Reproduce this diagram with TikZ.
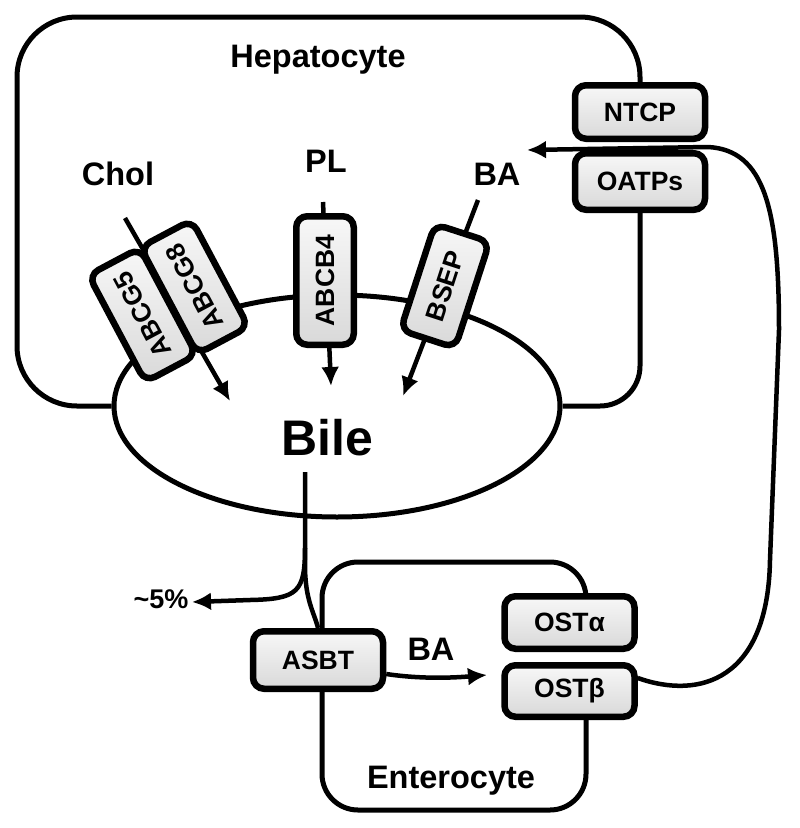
\documentclass[tikz,border=0pt]{standalone}
\usepackage{fontspec}
\setmainfont{Liberation Sans}
\usetikzlibrary{arrows.meta,shapes.geometric,backgrounds,calc}
\begin{document}
\begin{tikzpicture}[x=1pt,y=-1pt,
  wall/.style={line width=5pt},
  conn/.style={line width=4.5pt},
  arr/.style={line width=4.5pt,-{Latex[length=19pt,width=18pt]}},
  tbox/.style={draw, line width=6.5pt, rounded corners=11pt, top color=gray!6, middle color=gray!13, bottom color=gray!30,
    font=\bfseries\fontsize{26.5}{30}\selectfont, inner sep=0pt},
  lbl/.style={font=\bfseries\fontsize{32.5}{38}\selectfont, anchor=base, inner sep=0pt},
]
\useasboundingbox (0,0) rectangle (800,828);

% bile canaliculus
\node[draw, ellipse, line width=5pt, minimum width=446pt, minimum height=222pt] (bile) at (337,406) {};

% transporters
\node[tbox, minimum width=130pt, minimum height=53.5pt] (NTCP) at (640,112) {NTCP};
\node[tbox, minimum width=130pt, minimum height=56.5pt] (OATPs) at (640,181.5) {OATPs};
\node[tbox, minimum width=121pt, minimum height=58pt, rotate=118] (ABCG5) at (142.5,315) {ABCG5};
\node[tbox, minimum width=121pt, minimum height=58pt, rotate=118] (ABCG8) at (194.5,287) {ABCG8};
\node[tbox, minimum width=128.5pt, minimum height=57.5pt, rotate=90] (ABCB4) at (325,280.5) {ABCB4};
\node[tbox, minimum width=111.5pt, minimum height=57.5pt, rotate=72] (BSEP) at (445,286) {BSEP};
\node[tbox, minimum width=130pt, minimum height=57.5pt] (ASBT) at (318,660) {ASBT};
\node[tbox, minimum width=130pt, minimum height=52.5pt] (OSTa) at (569.5,622.5) {OSTα};
\node[tbox, minimum width=130pt, minimum height=51.5pt] (OSTb) at (569.5,691) {OSTβ};

% labels
\node[lbl] (hep) at (318,67) {Hepatocyte};
\node[lbl] (chol) at (118,185) {Chol};
\node[lbl] (pl) at (326,172) {PL};
\node[lbl] (bahep) at (497,185) {BA};
\node[lbl, font=\bfseries\fontsize{50}{58}\selectfont] (biletxt) at (327,455) {Bile};
\node[lbl, font=\bfseries\fontsize{27}{30}\selectfont] (pct) at (161,608) {\textasciitilde5\%};
\node[lbl] (baent) at (431,660) {BA};
\node[lbl] (ent) at (451,788) {Enterocyte};

% free ends
\coordinate (cholstart) at (125,218);
\coordinate (choltip) at (230,401);
\coordinate (plstart) at (323,202);
\coordinate (pltip) at (331,386);
\coordinate (bastart) at (478,200);
\coordinate (batip) at (403,396);
\coordinate (hepbatip) at (527,150);
\coordinate (biletail) at (305,472);
\coordinate (pcttip) at (192,602);
\coordinate (enttip) at (487,675);

\begin{scope}[on background layer]
  % hepatocyte outline
  \draw[wall, rounded corners=60pt] (NTCP.center) |- (17,17) |- (bile.west);
  \draw[wall, rounded corners=40pt] (OATPs.center) |- (bile.east);
  % enterocyte outline
  \draw[wall, rounded corners=36pt] (322,662) -- (322,562) -- (586,562) -- (586,640);
  \draw[wall, rounded corners=36pt] (322,662) -- (322,810) -- (586,810) -- (586,700);
  % canalicular transport
  \draw[arr] (cholstart) -- (choltip);
  \draw[arr] (plstart) -- (pltip);
  \draw[arr] (bastart) -- (batip);
  % bile flow
  \draw[conn] (biletail) -- (305,565) .. controls (305,600) and (314,612) .. (ASBT.north);
  \draw[arr] (305,548) .. controls (305,592) and (298,599) .. (250,600) -- (pcttip);
  % enterocyte transport
  \draw[arr] ($(ASBT.east)+(0,14)$) .. controls (420,679) and (450,678) .. (enttip);
  % portal return
  \draw[arr] ($(OSTb.east)+(0,-13)$) .. controls (700,700) and (768,680) .. (770,560)
     -- (779,330) .. controls (779,210) and (765,150) .. (708,147) -- (hepbatip);
\end{scope}
\end{tikzpicture}
\end{document}
